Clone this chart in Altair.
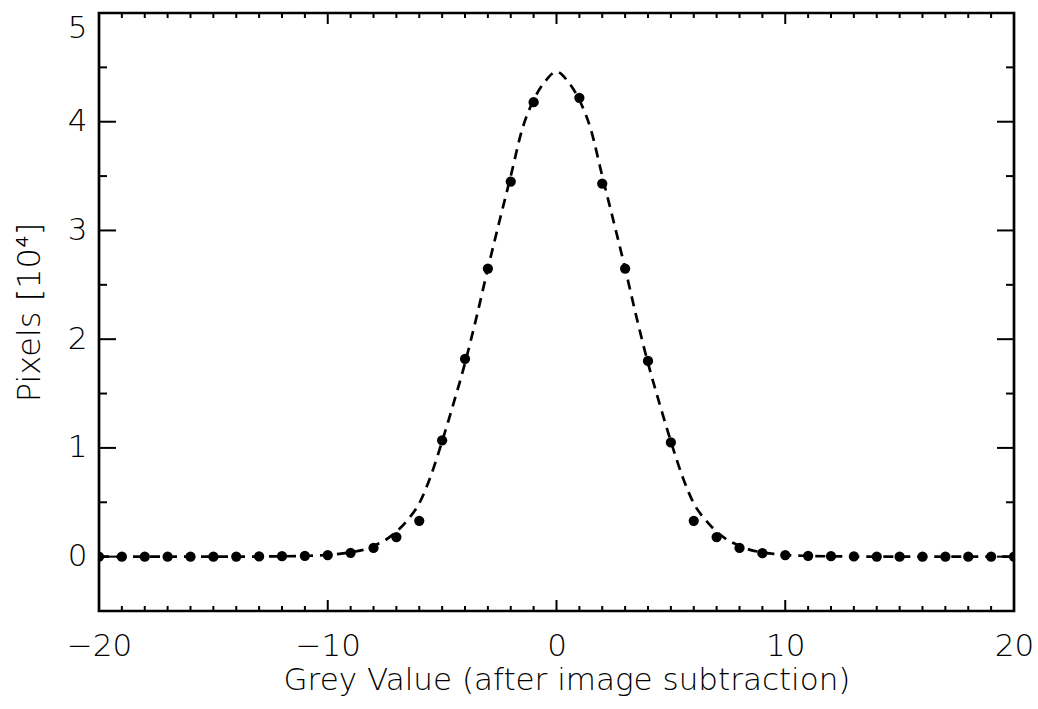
import altair as alt
import pandas as pd

# Histogram of grey values: bin centres and pixel counts (units of 10^4)
bin_x = [-20, -19, -18, -17, -16, -15, -14, -13, -12, -11, -10, -9, -8, -7, -6,
         -5, -4, -3, -2, -1, 1, 2, 3, 4, 5, 6, 7, 8, 9, 10,
         11, 12, 13, 14, 15, 16, 17, 18, 19, 20]
bin_counts = [0.0, 0.0, 0.0, 0.0, 0.0, 0.0, 0.001, 0.002, 0.004, 0.008, 0.015, 0.035, 0.08, 0.18, 0.33,
              1.07, 1.82, 2.65, 3.45, 4.18, 4.22, 3.43, 2.65, 1.80, 1.05, 0.33, 0.18, 0.08, 0.032, 0.015,
              0.008, 0.004, 0.002, 0.001, 0.0, 0.0, 0.0, 0.0, 0.0, 0.0]

# Fitted profile (dashed curve), sampled along the grey-value axis
fit_x = [-20, -14, -12, -11, -10, -9.5, -9, -8.5, -8, -7.5, -7, -6.5, -6, -5.5, -5, -4.5, -4,
         -3.5, -3, -2.5, -2, -1.5, -1, -0.5, 0, 0.5, 1, 1.5, 2, 2.5, 3, 3.5, 4,
         4.5, 5, 5.5, 6, 6.5, 7, 7.5, 8, 8.5, 9, 9.5, 10, 11, 12, 14, 20]
fit_y = [0.0, 0.0, 0.003, 0.007, 0.015, 0.025, 0.04, 0.06, 0.10, 0.15, 0.23, 0.34, 0.49, 0.74, 1.06, 1.41, 1.78,
         2.20, 2.65, 3.08, 3.50, 3.93, 4.20, 4.37, 4.46, 4.37, 4.20, 3.93, 3.50, 3.08, 2.65, 2.20, 1.78,
         1.41, 1.06, 0.74, 0.49, 0.34, 0.23, 0.15, 0.10, 0.06, 0.04, 0.025, 0.015, 0.007, 0.003, 0.0, 0.0]

# Axis tick positions
x_major = [-20, -10, 0, 10, 20]
x_minor = [v for v in range(-20, 21) if v % 10 != 0]
y_major = [0, 1, 2, 3, 4, 5]
y_minor = [0.5, 1.5, 2.5, 3.5, 4.5]

W, H = 915, 598
FONT = "DejaVu Sans"
INK = "#000000"

x_scale = alt.Scale(domain=[-20, 20], nice=False, zero=False)
y_scale = alt.Scale(domain=[-0.5, 5], nice=False, zero=False)

pts = pd.DataFrame({"x": bin_x, "y": bin_counts})
fit = pd.DataFrame({"x": fit_x, "y": fit_y})

x_axis = alt.Axis(values=x_major, title="Grey Value (after image subtraction)",
                  domain=False, ticks=False, grid=False, labelPadding=20,
                  labelFont=FONT, labelFontSize=31, labelFontWeight=200, labelColor=INK,
                  titleFont=FONT, titleFontSize=31, titleFontWeight=200, titleColor=INK,
                  titlePadding=4, titleX=W / 2 + 10, labelFlush=False)
# the top label is pulled flush inside the frame
y_axis = alt.Axis(values=y_major, title="Pixels [10⁴]",
                  domain=False, ticks=False, grid=False, labelPadding=12,
                  labelFont=FONT, labelFontSize=31, labelFontWeight=200, labelColor=INK,
                  titleFont=FONT, titleFontSize=32, titleFontWeight=200, titleColor=INK,
                  titlePadding=21, labelFlush=True, labelFlushOffset=0)

X = alt.X("x:Q", scale=x_scale, axis=x_axis)
Y = alt.Y("y:Q", scale=y_scale, axis=y_axis)

curve = alt.Chart(fit).mark_line(
    color="black", strokeWidth=2.7, strokeDash=[10, 7], interpolate="monotone", clip=True
).encode(x=X, y=Y)

dots = alt.Chart(pts).mark_circle(color="black", opacity=1, size=105, clip=True).encode(x=X, y=Y)


def xticks(values, length):
    df = pd.DataFrame({"x": values})
    base = alt.Chart(df).mark_rule(color="black", strokeWidth=2)
    bottom = base.encode(x=X, y=alt.value(H), y2=alt.value(H - length))
    top = base.encode(x=X, y=alt.value(0), y2=alt.value(length))
    return [bottom, top]


def yticks(values, length):
    df = pd.DataFrame({"y": values})
    base = alt.Chart(df).mark_rule(color="black", strokeWidth=2)
    left = base.encode(y=Y, x=alt.value(0), x2=alt.value(length))
    right = base.encode(y=Y, x=alt.value(W), x2=alt.value(W - length))
    return [left, right]


tick_layers = xticks(x_major, 11) + xticks(x_minor, 5) + yticks(y_major, 17) + yticks(y_minor, 8)

chart = alt.layer(curve, dots, *tick_layers).properties(
    width=W, height=H,
    background="white",
    autosize=alt.AutoSizeParams(type="none"),
    padding={"left": 99, "top": 13, "right": 24, "bottom": 98},
).configure_view(
    stroke="black", strokeWidth=2.7
)

chart.save("out.html", embed_options={"renderer": "svg", "actions": False})
